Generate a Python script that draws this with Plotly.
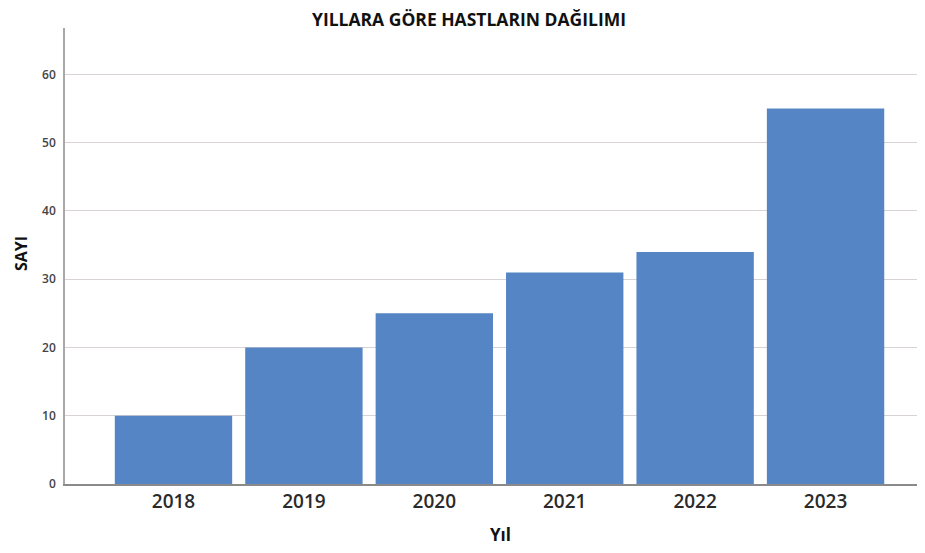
import plotly.graph_objects as go

years = ["2018", "2019", "2020", "2021", "2022", "2023"]
counts = [10, 20, 25, 31, 34, 55]
y_ticks = [0, 10, 20, 30, 40, 50, 60]

title_text = "YILLARA GÖRE HASTLARIN DAĞILIMI"
x_title = "Yıl"
y_title = "SAYI"

fig = go.Figure(go.Bar(
    x=years, y=counts,
    marker=dict(color="#5585C5", line=dict(width=0)),
))

# the page body adds an 8px offset; plot area in the screenshot: x 65..(past right edge), y 28..484
fig.update_layout(
    width=925, height=553,
    margin=dict(l=57, r=0, t=20, b=77),
    plot_bgcolor="white", paper_bgcolor="white",
    bargap=0.1,
    showlegend=False,
    font=dict(family="Open Sans, DejaVu Sans, sans-serif", color="#333"),
    xaxis=dict(
        type="category",
        range=[-0.832, 5.824],
        showgrid=False,
        showline=True, linecolor="#8a8a8a", linewidth=2,
        ticks="", tickfont=dict(size=19, color="#2a2a2a", weight=600),
        ticklabelstandoff=-1,
    ),
    yaxis=dict(
        range=[0, 66.8],
        tickvals=y_ticks,
        showgrid=True, gridcolor="#d8d2d2", gridwidth=1,
        showline=True, linecolor="#a8a8a8", linewidth=1.5,
        zeroline=False,
        ticks="", tickfont=dict(size=12, color="#444", weight=600),
        ticklabelstandoff=5,
    ),
    annotations=[
        dict(text="<b>" + title_text + "</b>", x=(469-65)/868, y=1 + (28-19.5)/456,
             xref="paper", yref="paper", showarrow=False, yanchor="middle",
             font=dict(size=17.5, color="#111")),
        dict(text="<b>" + x_title + "</b>", x=(500-65)/868, y=-(534-484)/456,
             xref="paper", yref="paper", showarrow=False, yanchor="middle",
             font=dict(size=17, color="#111")),
        dict(text="<b>" + y_title + "</b>", x=-(65-21)/868, y=(484-254)/456,
             xref="paper", yref="paper", showarrow=False, textangle=-90,
             xanchor="center", yanchor="middle",
             font=dict(size=16, color="#111")),
    ],
)

fig.write_html("out.html")
